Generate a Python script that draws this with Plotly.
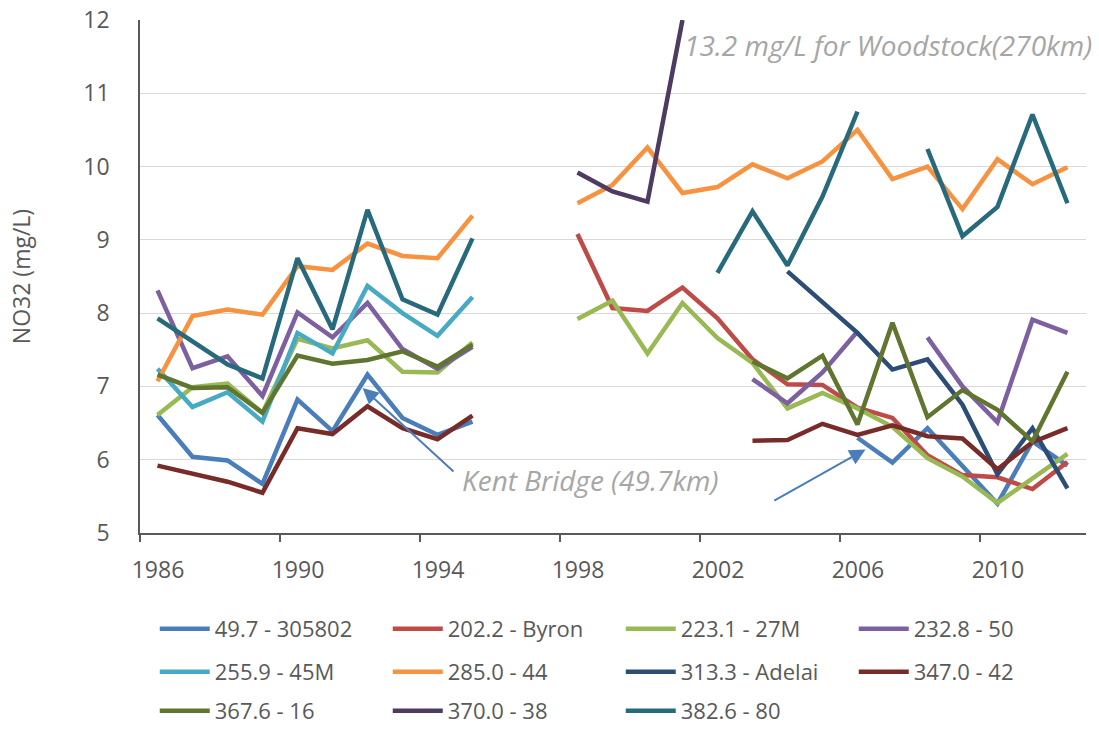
import plotly.graph_objects as go

# ---------------- data ----------------
years = list(range(1986, 2013))
N = None
tick_years = ["1986", "1990", "1994", "1998", "2002", "2006", "2010"]
tick_bounds = [1985.5, 1989.5, 1993.5, 1997.5, 2001.5, 2005.5, 2009.5]

s49_7 = [6.61, 6.04, 5.99, 5.67, 6.82, 6.39, 7.16, 6.57, 6.34, 6.52,
         N, N, N, N, N, N, N, N, N, N,
         6.30, 5.96, 6.43, 5.92, 5.40, 6.25, 5.92]
s202_2 = [N, N, N, N, N, N, N, N, N, N, N, N,
          9.08, 8.07, 8.03, 8.35, 7.93, 7.37, 7.03, 7.02, 6.71, 6.57, 6.06, 5.79, 5.76, 5.60, 5.97]
s223_1 = [6.61, 6.99, 7.04, 6.64, 7.65, 7.52, 7.63, 7.20, 7.19, 7.60, N, N,
          7.92, 8.17, 7.45, 8.14, 7.66, 7.32, 6.70, 6.91, 6.70, 6.45, 6.02, 5.77, 5.41, 5.74, 6.08]
s232_8 = [8.31, 7.25, 7.41, 6.87, 8.01, 7.67, 8.14, 7.51, 7.24, 7.54, N, N,
          N, N, N, N, N, 7.10, 6.77, 7.19, 7.75, N, 7.67, 7.00, 6.51, 7.91, 7.73]
s255_9 = [7.24, 6.72, 6.92, 6.52, 7.73, 7.45, 8.37, 8.00, 7.69, 8.22, N, N,
          N, N, N, N, N, N, N, N, N, N, N, N, N, N, N]
s285_0 = [7.07, 7.96, 8.05, 7.98, 8.64, 8.59, 8.95, 8.78, 8.75, 9.33, N, N,
          9.50, 9.75, 10.26, 9.64, 9.72, 10.03, 9.84, 10.07, 10.50, 9.83, 10.00, 9.42, 10.10, 9.76, 9.99]
s313_3 = [N, N, N, N, N, N, N, N, N, N, N, N,
          N, N, N, N, N, N, 8.57, 8.16, 7.73, 7.23, 7.37, 6.75, 5.80, 6.43, 5.61]
s347_0 = [5.92, 5.81, 5.70, 5.55, 6.43, 6.35, 6.73, 6.43, 6.28, 6.60, N, N,
          N, N, N, N, N, 6.26, 6.27, 6.49, 6.34, 6.47, 6.32, 6.29, 5.87, 6.24, 6.43]
s367_6 = [7.16, 6.98, 6.99, 6.64, 7.42, 7.31, 7.36, 7.48, 7.27, 7.57, N, N,
          N, N, N, N, N, 7.34, 7.11, 7.42, 6.48, 7.87, 6.58, 6.95, 6.68, 6.25, 7.20]
s370_0 = [N, N, N, N, N, N, N, N, N, N, N, N,
          9.92, 9.66, 9.52, 13.2, N, N, N, N, N, N, N, N, N, N, N]
s382_6 = [7.93, 7.61, 7.30, 7.11, 8.75, 7.78, 9.41, 8.19, 7.98, 9.02, N, N,
          N, N, N, N, 8.55, 9.39, 8.65, 9.59, 10.75, N, 10.24, 9.05, 9.45, 10.71, 9.50]

names = ["49.7 - 305802", "202.2 - Byron", "223.1 - 27M", "232.8 - 50",
         "255.9 - 45M", "285.0 - 44", "313.3 - Adelai", "347.0 - 42",
         "367.6 - 16", "370.0 - 38", "382.6 - 80"]
series = [s49_7, s202_2, s223_1, s232_8, s255_9, s285_0, s313_3, s347_0,
          s367_6, s370_0, s382_6]
colors = ["#4A7EBB", "#BE4B48", "#98B954", "#7D60A0", "#46AAC5", "#F69240",
          "#2C4D75", "#772C2A", "#5F7530", "#4D3B62", "#276A7C"]

Y_MIN, Y_MAX = 5, 12
FONT = "Open Sans, sans-serif"
GREY = "#595959"

fig = go.Figure()
legend_ids = ["legend", "legend", "legend", "legend",
              "legend2", "legend2", "legend2", "legend2",
              "legend3", "legend3", "legend3"]
for nm, vals, col, lg in zip(names, series, colors, legend_ids):
    # Excel draws values above the axis maximum at the axis maximum
    yv = [None if v is None else min(v, Y_MAX) for v in vals]
    fig.add_trace(go.Scatter(x=years, y=yv, name=nm, mode="lines",
                             line=dict(color=col, width=4.5),
                             connectgaps=False, legend=lg))

leg_common = dict(orientation="h", xanchor="left", yanchor="middle",
                  entrywidth=168, entrywidthmode="pixels",
                  font=dict(family=FONT, size=22, color=GREY),
                  bgcolor="rgba(0,0,0,0)", itemwidth=50)
fig.update_layout(
    width=1099, height=729,
    margin=dict(l=140, r=13, t=20, b=196, autoexpand=False),
    paper_bgcolor="white", plot_bgcolor="white",
    font=dict(family=FONT, color=GREY),
    legend=dict(x=0.0156, y=-0.187, **leg_common),
    legend2=dict(x=0.0156, y=-0.2710, **leg_common),
    legend3=dict(x=0.0156, y=-0.3470, **leg_common),
    xaxis=dict(range=[1985.5, 2012.53], tickvals=tick_bounds, ticktext=tick_years,
               ticks="outside", ticklen=7, tickcolor=GREY, tickwidth=1.5,
               ticklabelshift=18, ticklabelstandoff=8,
               showline=True, linecolor=GREY, linewidth=2, showgrid=False,
               zeroline=False, tickfont=dict(family=FONT, size=23, color=GREY)),
    yaxis=dict(range=[Y_MIN, Y_MAX], dtick=1, tick0=5, ticks="",
               ticklabelstandoff=24, showline=True, linecolor=GREY, linewidth=1.5,
               showgrid=True, gridcolor="#D9D9D9", gridwidth=1.3, zeroline=False,
               tickfont=dict(family=FONT, size=23, color=GREY),
               title=dict(text="NO32 (mg/L)", standoff=46,
                          font=dict(family=FONT, size=23, color=GREY))),
)

fig.add_annotation(x=2006.87, y=11.66, xref="x", yref="y", showarrow=False,
                   text="13.2 mg/L for Woodstock(270km)", xanchor="center",
                   font=dict(family=FONT, size=28, color="#A6A6A6", style="italic"))
fig.add_annotation(x=1998.36, y=5.73, xref="x", yref="y", showarrow=False,
                   text="Kent Bridge (49.7km)", xanchor="center",
                   font=dict(family=FONT, size=28, color="#A6A6A6", style="italic"))
fig.add_annotation(x=1991.86, y=6.98, ax=1994.5, ay=5.82, xref="x", yref="y",
                   axref="x", ayref="y", text="", showarrow=True, arrowhead=2,
                   arrowsize=1.6, arrowwidth=2, arrowcolor="#4A7EBB")
fig.add_annotation(x=2006.23, y=6.14, ax=2003.58, ay=5.43, xref="x", yref="y",
                   axref="x", ayref="y", text="", showarrow=True, arrowhead=2,
                   arrowsize=1.6, arrowwidth=2, arrowcolor="#4A7EBB")

fig.write_html("out.html")
